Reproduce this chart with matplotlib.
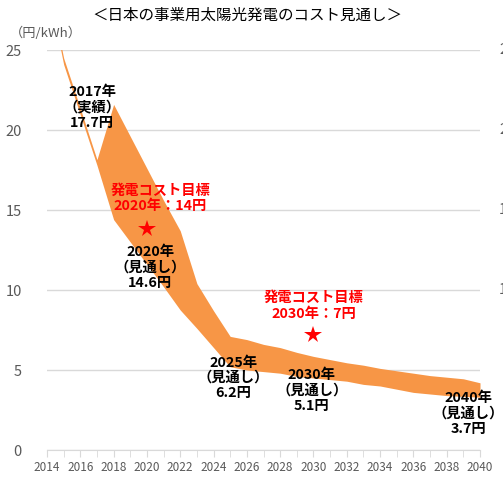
import matplotlib
matplotlib.use('Agg')
import matplotlib.pyplot as plt

plt.rcParams['font.family'] = ['Noto Sans CJK JP', 'DejaVu Sans']

# cost band (yen/kWh), upper and lower edge per year
years = list(range(2014, 2041))
upper = [29.6, 24.5, 21.35, 18.15, 21.6, 19.6, 17.6, 15.6, 13.7, 10.4, 8.7, 7.1, 6.9, 6.6,
         6.4, 6.1, 5.85, 5.65, 5.45, 5.3, 5.1, 4.95, 4.8, 4.65, 4.55, 4.45, 4.2]
lower = [29.2, 24.1, 20.95, 17.8, 14.4, 13.0, 11.6, 10.2, 8.75, 7.6, 6.4, 5.2, 5.0, 4.9,
         4.8, 4.6, 4.5, 4.4, 4.3, 4.1, 4.0, 3.8, 3.6, 3.5, 3.4, 3.35, 3.3]

# cost targets (stars)
target_years = [2020, 2030]
target_vals = [13.8, 7.2]

# labels: (x, y, text, colour)
labels = [
    (2016.7, 21.4, '2017年\n（実績）\n17.7円', 'black'),
    (2020.8, 15.7, '発電コスト目標\n2020年：14円', 'red'),
    (2020.2, 11.4, '2020年\n（見通し）\n14.6円', 'black'),
    (2025.2, 4.5, '2025年\n（見通し）\n6.2円', 'black'),
    (2030.0, 9.0, '発電コスト目標\n2030年：7円', 'red'),
    (2029.9, 3.7, '2030年\n（見通し）\n5.1円', 'black'),
    (2039.3, 2.3, '2040年\n（見通し）\n3.7円', 'black'),
]

fig = plt.figure(figsize=(5.03, 4.82), dpi=100)
ax = fig.add_axes([47/503, 32/482, 433/503, 400/482])

ax.fill_between(years, lower, upper, color='#F79646', linewidth=0)
ax.plot(target_years, target_vals, linestyle='none', marker='*', color='red',
        markersize=13, markeredgewidth=0)

for x, y, t, c in labels:
    ax.text(x, y, t, ha='center', va='center', fontsize=10.3, fontweight='bold',
            color=c, linespacing=1.12)

ax.set_xlim(2014, 2040)
ax.set_ylim(0, 25)
ax.set_yticks([0, 5, 10, 15, 20, 25])
ax.set_xticks(range(2014, 2041, 2))
ax.set_xticks(range(2014, 2041), minor=True)
ax.grid(axis='y', color='#d9d9d9', linewidth=1)
ax.set_axisbelow(True)

for s in ['left', 'right', 'top']:
    ax.spines[s].set_visible(False)
ax.spines['bottom'].set_color('#d9d9d9')
ax.tick_params(axis='y', length=0, pad=18, labelsize=10.5, labelcolor='#595959')
ax.tick_params(axis='x', which='both', length=5, color='#d9d9d9', labelsize=8.5,
               labelcolor='#595959', pad=3)
ax.tick_params(axis='x', which='minor', labelbottom=False)

fig.text(247/503, 1 - 15/482, '＜日本の事業用太陽光発電のコスト見通し＞', ha='center',
         va='center', fontsize=11.2, color='black')
fig.text(10/503, 1 - 33/482, '（円/kWh）', ha='left', va='center', fontsize=9.5,
         color='#595959')

# clipped labels of a second axis at the right edge (cut off in the reference too)
fig.text(499/503, 1 - 31/482, '（円/kWh）', ha='left', va='center', fontsize=9.5,
         color='#595959')
for v in [25, 20, 15, 10]:
    fig.text(499/503, (32 + v * 16) / 482, str(v), ha='left', va='center',
             fontsize=10.5, color='#595959')

fig.savefig('out.png', dpi=100)
